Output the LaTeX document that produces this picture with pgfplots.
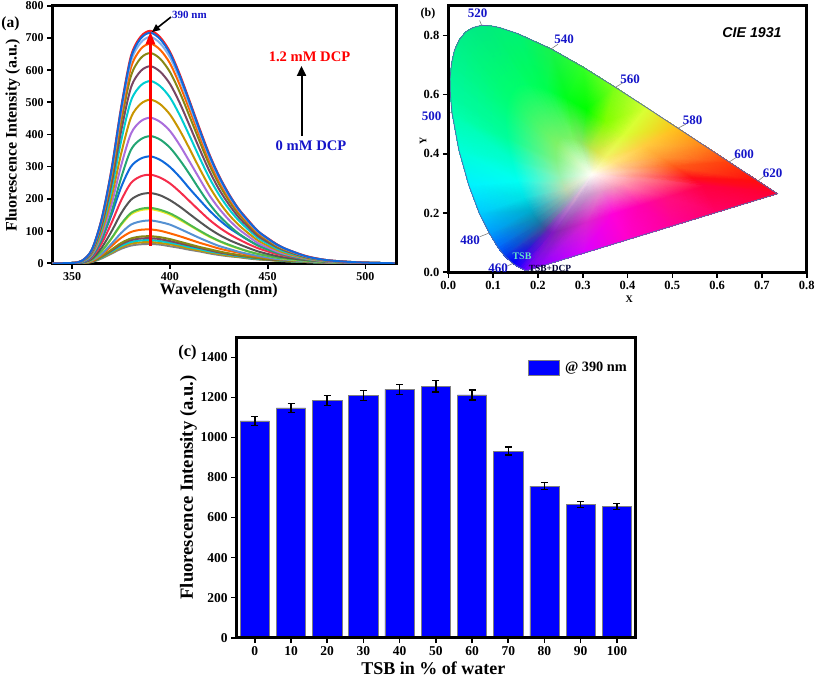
\documentclass[border=0pt]{standalone}
\usepackage{fontspec}
\setmainfont{Liberation Serif}
\newfontfamily\arialf{Liberation Sans}
\usepackage{pgfplots}
\usepackage{pgfplotstable}
\pgfplotsset{compat=1.18}
\usetikzlibrary{arrows.meta}
\definecolor{dblue}{RGB}{20,20,200}
\definecolor{c1}{RGB}{130,130,130}
\definecolor{c2}{RGB}{200,150,0}
\definecolor{c3}{RGB}{0,205,210}
\definecolor{c4}{RGB}{120,70,100}
\definecolor{c5}{RGB}{135,135,20}
\definecolor{c6}{RGB}{255,100,0}
\definecolor{c7}{RGB}{85,145,210}
\definecolor{c8}{RGB}{235,235,40}
\definecolor{c9}{RGB}{80,185,75}
\definecolor{c10}{RGB}{85,85,85}
\definecolor{c11}{RGB}{245,45,75}
\definecolor{c12}{RGB}{15,105,220}
\definecolor{c13}{RGB}{35,165,115}
\definecolor{c14}{RGB}{170,110,220}
\definecolor{c20}{RGB}{130,175,235}
\definecolor{c21}{RGB}{250,30,30}
\definecolor{locus}{RGB}{85,105,170}
\definecolor{tsbc}{RGB}{100,230,200}
\pgfplotstableread{
w a b c d e f g h i j k l m n o p q r s t u v
340 0 0 0 0 0 0 0 0 0 0 0 0 0 0 0 0 0 0 0 0 0 0
350 0 0 0 0 0 0 0 0 0 0 1 1 1 1 1 1 1 1 1 1 1 1
355 1 1 1 1 1 1 1 2 2 2 3 3 4 5 6 6 7 7 8 8 8 8
360 4 5 5 5 6 7 9 11 11 14 18 21 23 26 29 33 35 38 40 41 42 42
365 15 17 18 20 21 26 29 37 38 48 61 73 75 86 97 108 116 124 130 134 137 136
370 30 33 36 39 42 53 60 76 77 98 124 149 158 181 203 226 245 261 273 281 289 286
375 45 50 54 59 63 79 94 119 122 155 195 236 265 303 340 379 410 438 457 471 484 480
380 55 61 66 72 77 97 120 152 156 197 249 300 352 402 452 504 545 581 607 626 643 637
385 59 65 71 77 83 104 130 165 169 214 270 325 385 441 495 552 597 637 665 685 704 698
390 60 66 72 78 84 105 133 168 172 218 275 332 395 452 508 566 612 653 682 703 722 716
395 58 63 69 75 81 101 128 162 166 211 266 321 384 439 494 550 595 635 663 683 702 696
400 53 59 64 69 75 93 120 151 155 196 248 299 359 411 462 515 557 594 621 640 657 652
405 48 53 58 62 67 84 107 135 139 176 222 268 321 367 413 460 498 531 554 572 587 582
410 42 46 50 55 59 74 93 118 120 153 193 232 277 316 356 396 428 457 477 492 505 501
415 37 40 44 48 51 64 79 100 102 130 164 198 230 264 296 330 357 381 398 410 421 417
420 31 34 37 41 44 55 66 83 85 108 136 165 186 213 240 267 289 308 322 332 341 338
425 26 29 32 34 37 46 54 69 70 89 112 136 149 171 192 214 231 247 258 266 273 271
430 22 24 27 29 31 39 45 56 58 73 92 111 119 136 152 170 184 196 205 211 217 215
435 19 20 22 24 26 33 36 46 47 60 75 91 93 107 120 134 144 154 161 166 170 169
440 15 17 18 20 21 26 29 37 37 48 60 72 73 84 94 105 113 121 126 130 134 132
445 12 13 14 16 17 21 23 29 29 37 47 56 55 63 71 79 85 91 95 98 100 100
450 10 11 12 12 13 17 18 23 23 29 37 44 43 49 55 61 66 71 74 76 78 77
455 8 8 9 10 11 13 13 17 17 22 28 33 32 36 41 45 49 52 55 56 58 57
460 6 7 7 8 8 11 11 13 14 17 22 27 24 27 30 34 37 39 41 42 43 43
470 4 4 4 5 5 6 6 8 8 10 12 15 12 14 15 17 18 20 20 21 22 21
480 2 2 2 2 3 3 3 4 4 5 6 7 6 6 7 8 9 9 10 10 10 10
490 1 1 1 1 1 2 1 2 2 2 3 4 3 3 4 4 4 5 5 5 5 5
500 0 0 0 0 1 1 1 1 1 1 1 2 1 1 2 2 2 2 2 2 2 2
515 0 0 0 0 0 0 0 0 0 0 0 0 0 0 0 0 0 0 0 0 0 0
}\spectra
\pgfplotstableread{
x y c
.1741 .0050 .45,0,1
.1566 .0177 .15,0,1
.1440 .0297 0,0,1
.1241 .0578 0,.25,.95
.1096 .0868 0,.42,1
.0913 .1327 0,.62,1
.0687 .2007 0,.8,1
.0454 .2950 0,.95,1
.0235 .4127 0,1,.85
.0082 .5384 0,1,.68
.0047 .5990 0,.98,.62
.0039 .6548 0,.97,.6
.0072 .7060 0,.96,.57
.0139 .7502 0,.95,.55
.0244 .7850 0,.94,.53
.0389 .8120 0,.93,.52
.0550 .8260 0,.92,.51
.0743 .8338 0,.92,.5
.0942 .8322 0,.93,.48
.1142 .8262 0,.94,.47
.1547 .8059 0,.95,.45
.2296 .7543 .1,.95,.3
.3016 .6923 .2,1,.15
.3731 .6245 .5,1,.1
.4441 .5547 .85,1,.2
.5125 .4866 1,.75,.1
.5752 .4242 1,.5,.1
.6270 .3725 1,.25,.05
.6915 .3083 1,.05,.05
.7347 .2653 1,0,.2
.6000 .2027 1,0,.4
.5000 .1563 1,0,.6
.4000 .1099 1,0,.8
.3000 .0635 .85,0,1
.2000 .0170 .55,0,1
.1741 .0050 .45,0,1
.2325 .1350 .5,.1,.75
.2220 .1426 .4,.15,.7
.2144 .1498 .25,.3,.6
.2025 .1667 .1,.45,.65
.1938 .1841 .05,.55,.7
.1828 .2116 0,.68,.8
.1692 .2524 0,.88,.9
.1552 .3090 0,1,.95
.1421 .3796 0,1,.8
.1329 .4550 0,1,.6
.1308 .4914 0,1,.56
.1303 .5249 0,1,.52
.1323 .5556 0,1,.48
.1363 .5821 0,1,.45
.1426 .6030 0,1,.43
.1513 .6192 0,1,.42
.1610 .6276 0,1,.41
.1726 .6323 0,1,.4
.1845 .6313 0,1,.37
.1965 .6277 0,1,.35
.2208 .6155 0,1,.3
.2658 .5846 0,1,.1
.3090 .5474 0,1,0
.3519 .5067 .5,1,0
.3945 .4648 .85,1,.2
.4355 .4240 1,.8,.25
.4731 .3865 1,.6,.2
.5042 .3555 1,.35,.1
.5429 .3170 1,.05,.1
.5688 .2912 1,0,.25
.4880 .2536 1,.05,.5
.4280 .2258 1,0,.68
.3680 .1979 1,0,.85
.3080 .1701 .85,.15,.8
.2480 .1422 .55,.15,.7
.2325 .1350 .5,.1,.75
.2835 .2488 .8,.65,.8
.2792 .2519 .75,.65,.8
.2760 .2549 .7,.7,.75
.2710 .2620 .7,.75,.7
.2674 .2692 .72,.8,.7
.2628 .2807 .75,.85,.7
.2572 .2977 .7,.9,.7
.2514 .3213 .6,.95,.7
.2459 .3507 .55,.95,.6
.2421 .3821 .5,.95,.5
.2412 .3973 .5,.95,.47
.2410 .4112 .5,.95,.45
.2418 .4240 .5,.95,.42
.2435 .4351 .5,.95,.4
.2461 .4438 .48,.95,.4
.2497 .4505 .47,.95,.4
.2538 .4540 .46,.95,.4
.2586 .4560 .45,.95,.4
.2636 .4556 .46,.95,.4
.2686 .4541 .47,.95,.4
.2787 .4490 .5,.95,.4
.2974 .4361 .55,.9,.4
.3154 .4206 .7,.9,.3
.3333 .4036 .85,.9,.3
.3510 .3862 .95,.95,.4
.3681 .3692 1,.9,.5
.3838 .3536 1,.8,.55
.3968 .3406 1,.75,.6
.4129 .3246 1,.6,.55
.4237 .3138 1,.55,.6
.3900 .2982 1,.6,.7
.3650 .2866 .95,.6,.75
.3400 .2750 .9,.6,.8
.3150 .2634 .8,.6,.8
.2900 .2518 .75,.6,.8
.2835 .2488 .8,.65,.8
.32 .33 1,1,.97
.32 .33 1,1,.97
.32 .33 1,1,.97
.32 .33 1,1,.97
.32 .33 1,1,.97
.32 .33 1,1,.97
.32 .33 1,1,.97
.32 .33 1,1,.97
.32 .33 1,1,.97
.32 .33 1,1,.97
.32 .33 1,1,.97
.32 .33 1,1,.97
.32 .33 1,1,.97
.32 .33 1,1,.97
.32 .33 1,1,.97
.32 .33 1,1,.97
.32 .33 1,1,.97
.32 .33 1,1,.97
.32 .33 1,1,.97
.32 .33 1,1,.97
.32 .33 1,1,.97
.32 .33 1,1,.97
.32 .33 1,1,.97
.32 .33 1,1,.97
.32 .33 1,1,.97
.32 .33 1,1,.97
.32 .33 1,1,.97
.32 .33 1,1,.97
.32 .33 1,1,.97
.32 .33 1,1,.97
.32 .33 1,1,.97
.32 .33 1,1,.97
.32 .33 1,1,.97
.32 .33 1,1,.97
.32 .33 1,1,.97
.32 .33 1,1,.97
}\gamuta
\pgfplotstableread{
x y e
0 1083 23
10 1147 24
20 1183 25
30 1210 26
40 1240 25
50 1255 28
60 1212 25
70 932 20
80 757 17
90 665 14
100 655 14
}\bars
\pgfplotsset{
  common/.style={
    scale only axis, axis line style={line width=3pt}, tick align=outside,
    xtick pos=bottom, ytick pos=left,
    major tick length=5.5pt, tick style={line width=1.6pt,black},
    ticklabel style={font=\fontsize{12}{13}\selectfont\bfseries},
    /pgf/number format/assume math mode=true,
    /pgf/number format/1000 sep={},
  }
}
\newcommand{\spc}[2]{\addplot[#1,line width=2pt,smooth] table[x=w,y=#2]{\spectra};}
\newcommand{\lead}[4]{\addplot[gray,line width=0.6pt] coordinates {(#1,#2)(#3,#4)};}
\newcommand{\wl}[3]{\node[inner sep=0,dblue] at (#1,678-#2) {\fontsize{13}{14}\selectfont\bfseries #3};}
\begin{document}
\begin{tikzpicture}[x=1pt,y=1pt]
\path[use as bounding box] (0,0) rectangle (817,678);
% (a)
\begin{axis}[common, at={(52.7pt,414.7pt)}, anchor=south west, width=344pt, height=257.6pt,
  xmin=340, xmax=516, ymin=0, ymax=800, xtick={350,400,450,500}, ytick={0,100,...,800},
  xlabel={\fontsize{16}{17}\selectfont\bfseries Wavelength (nm)},
  ylabel={\fontsize{16}{17}\selectfont\bfseries Fluorescence Intensity (a.u.)},
  xlabel style={at={(0.483,-0.1075)},anchor=center}, ylabel style={at={(-0.116,0.498)},anchor=center}]
\spc{c1}{a}\spc{c2}{b}\spc{c3}{c}\spc{c4}{d}\spc{c5}{e}\spc{c6}{f}\spc{c7}{g}\spc{c8}{h}\spc{c9}{i}\spc{c10}{j}\spc{c11}{k}\spc{c12}{l}\spc{c13}{m}\spc{c14}{n}\spc{c2}{o}\spc{c3}{p}\spc{c4}{q}\spc{c5}{r}\spc{c6}{s}\spc{c20}{t}\spc{c21}{u}\spc{c12}{v}
\draw[red,line width=3pt,-{Triangle[length=13pt,width=9pt]}] (axis cs:390,55)--(axis cs:390,720);
\draw[black,line width=2pt,-{Triangle[length=10pt,width=9pt]}] (axis cs:467.3,395)--(axis cs:467.3,613);
\end{axis}
\draw[line width=1.6pt,-{Triangle[length=8pt,width=7pt]}] (171,661)--(152,646);
\node[inner sep=0,dblue] at (189.5,663.5) {\fontsize{11}{12}\selectfont\bfseries 390 nm};
\node[inner sep=0,red] at (309.5,621) {\fontsize{14.6}{15}\selectfont\bfseries 1.2 mM DCP};
\node[inner sep=0,dblue] at (311,532) {\fontsize{14.6}{15}\selectfont\bfseries 0 mM DCP};
\node[inner sep=0] at (10.5,654) {\fontsize{15.5}{16}\selectfont\bfseries (a)};
% (b)
\begin{axis}[common, at={(448.3pt,405.7pt)}, anchor=south west, width=358.4pt, height=266.6pt,
  xmin=0, xmax=0.8, ymin=0, ymax=0.9, xtick={0,0.1,...,0.8}, ytick={0,0.2,...,0.8},
  ticklabel style={font=\fontsize{12.5}{13}\selectfont\bfseries},
  /pgf/number format/fixed, /pgf/number format/fixed zerofill, /pgf/number format/precision=1,
  xlabel={\fontsize{10}{11}\selectfont\bfseries X}, ylabel={\fontsize{10}{11}\selectfont\bfseries Y},
  xlabel style={at={(0.505,-0.102)},anchor=center}, ylabel style={at={(-0.0706,0.4925)},anchor=center}, axis on top]
\addplot[surf,shader=interp,mesh/rows=4,mesh/cols=36,mesh/color input=explicit,
  mesh/colorspace explicit color input=rgb,mesh/colorspace explicit color output=rgb]
  table[x=x,y=y,meta=c]{\gamuta};
\addplot[locus,line width=0.8pt] coordinates {(.1741,.0050)(.1566,.0177)(.1440,.0297)(.1241,.0578)(.1096,.0868)(.0913,.1327)(.0687,.2007)(.0454,.2950)(.0235,.4127)(.0082,.5384)(.0047,.5990)(.0039,.6548)(.0072,.7060)(.0139,.7502)(.0244,.7850)(.0389,.8120)(.0550,.8260)(.0743,.8338)(.0942,.8322)(.1142,.8262)(.1547,.8059)(.2296,.7543)(.3016,.6923)(.3731,.6245)(.4441,.5547)(.5125,.4866)(.5752,.4242)(.6270,.3725)(.6915,.3083)(.7347,.2653)(.1741,.0050)};
\lead{.0743}{.8338}{.07}{.85}\lead{.2296}{.7543}{.245}{.77}\lead{.3731}{.6245}{.39}{.64}\lead{.5125}{.4866}{.53}{.50}\lead{.627}{.3725}{.645}{.39}\lead{.6915}{.3083}{.705}{.325}\lead{.0082}{.5384}{0}{.54}\lead{.0913}{.1327}{.07}{.12}\lead{.144}{.0297}{.13}{.02}
\end{axis}
\node[inner sep=0] at (428,664) {\fontsize{12}{13}\selectfont\bfseries (b)};
\wl{477.7}{13.5}{520}\wl{564}{39}{540}\wl{630}{79}{560}\wl{692.7}{120}{580}\wl{744}{154}{600}\wl{772.7}{173}{620}\wl{431.7}{116}{500}\wl{470}{240}{480}\wl{498}{268}{460}
\node[inner sep=0,text=tsbc] at (522,422) {\fontsize{10}{11}\selectfont\bfseries TSB};
\node[inner sep=0,text=black!80!blue] at (550,409.5) {\fontsize{9.4}{10}\selectfont\bfseries TSB+DCP};
\node[inner sep=0] at (752,645) {\fontsize{14.2}{15}\selectfont\arialf\bfseries\itshape CIE 1931};
% (c)
\begin{axis}[common, at={(236.7pt,40.3pt)}, anchor=south west, width=398.3pt, height=300.4pt,
  xmin=-5, xmax=105, ymin=0, ymax=1500, xtick=data, ytick={0,200,...,1400},
  ticklabel style={font=\fontsize{13.5}{14}\selectfont\bfseries},
  xlabel={\fontsize{18}{19}\selectfont\bfseries TSB in \% of water},
  ylabel={\fontsize{18.6}{19}\selectfont\bfseries Fluorescence Intensity (a.u.)},
  xlabel style={at={(0.4936,-0.103)},anchor=center}, ylabel style={at={(-0.1215,0.5)},anchor=center},
  legend style={at={(0.9925,0.933)},anchor=north east,draw=none,fill=none,font=\fontsize{14.3}{15}\selectfont\bfseries},
  legend image code/.code={\fill[blue,draw=gray,line width=0.5pt] (0pt,-7.5pt) rectangle (31pt,7.5pt);},
  axis on top]
\addplot[ybar,bar width=8.1,bar shift=0pt,fill=blue,draw=gray,line width=0.6pt,
  error bars/.cd,y dir=both,y explicit,error bar style={line width=1.5pt,black},error mark options={rotate=90,mark size=3.5pt,line width=1.2pt,black}]
  table[x=x,y=y,y error=e]{\bars};
\addlegendentry{\hspace*{4pt}@ 390 nm}
\end{axis}
\node[inner sep=0] at (187.5,325) {\fontsize{16.5}{17}\selectfont\bfseries (c)};
\end{tikzpicture}
\end{document}
